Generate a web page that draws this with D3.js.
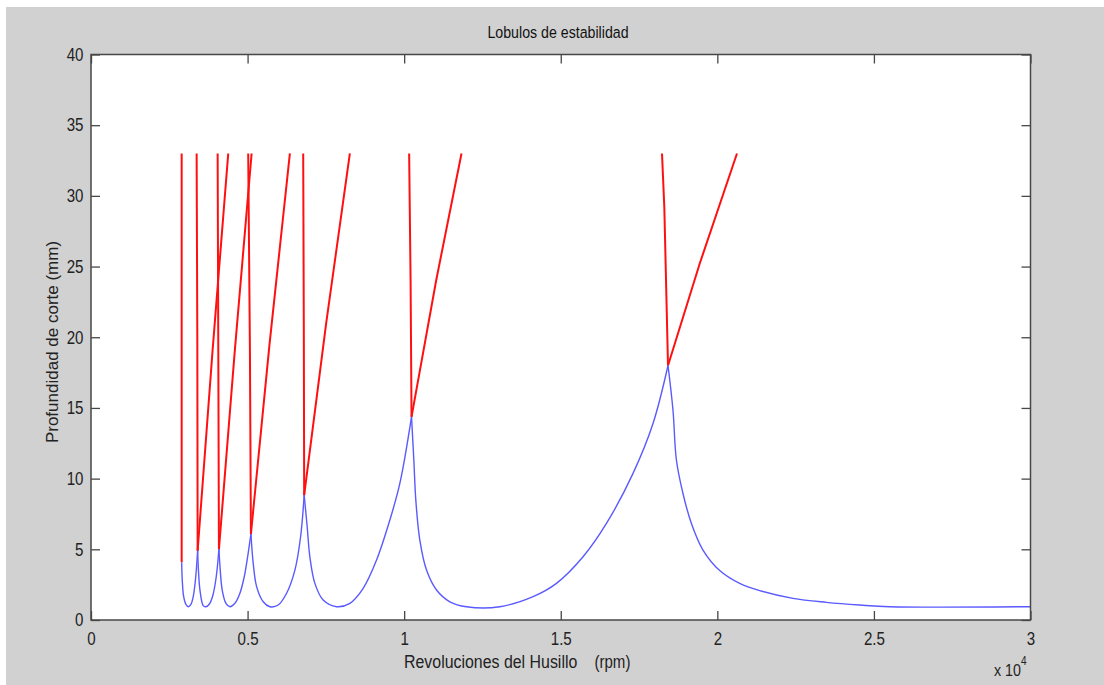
<!DOCTYPE html>
<html>
<head>
<meta charset="utf-8">
<script src="https://cdn.jsdelivr.net/npm/d3@7"></script>
<style>
  html, body { margin: 0; padding: 0; background: #ffffff; }
  svg { display: block; font-family: "Liberation Sans", Arial, sans-serif; }
</style>
</head>
<body>
<div id="chart"></div>
<script>
// ticks (x in units of 10^4 rpm)
var xTicks = [0, 0.5, 1, 1.5, 2, 2.5, 3];
var yTicks = [0, 5, 10, 15, 20, 25, 30, 35, 40];

// lower envelope of the lobes (blue), left to right
var lobe6 = [[0.2895, 4.08], [0.2914, 2.83], [0.2959, 1.65], [0.3032, 1.1], [0.3105, 0.94],
             [0.3191, 1.1], [0.3264, 1.65], [0.3335, 2.83], [0.3405, 4.9]];
var lobe5 = [[0.3405, 4.9], [0.3431, 3.53], [0.3479, 2.12], [0.3584, 1.02], [0.367, 0.94],
             [0.3782, 1.13], [0.3894, 1.77], [0.3999, 3.06], [0.4085, 5.0]];
var lobe4 = [[0.4085, 5.0], [0.4127, 3.53], [0.419, 2.12], [0.4309, 1.18], [0.4436, 0.94],
             [0.4596, 1.18], [0.4755, 1.89], [0.4893, 3.06], [0.5001, 4.47], [0.5106, 6.08]];
var lobe3 = [[0.5106, 6.08], [0.518, 4.0], [0.5288, 2.36], [0.5499, 1.29], [0.5713, 0.94],
             [0.5978, 1.06], [0.6246, 1.89], [0.6511, 3.53], [0.6693, 5.89], [0.6807, 8.83]];
var lobe2 = [[0.6807, 8.83], [0.6903, 6.6], [0.6989, 4.47], [0.7149, 2.59], [0.7414, 1.41],
             [0.7842, 0.94], [0.8266, 1.18], [0.8691, 2.24], [0.9118, 4.24], [0.9543, 7.07],
             [0.9862, 9.66], [1.0235, 14.37]];
var lobe1 = [[1.0235, 14.37], [1.0309, 11.3], [1.0372, 8.48], [1.05, 5.65], [1.0714, 3.53],
             [1.1033, 2.12], [1.1458, 1.29], [1.199, 0.94], [1.3053, 0.94], [1.4116, 1.65],
             [1.4863, 2.59], [1.5712, 4.47], [1.6459, 6.83], [1.7308, 10.37], [1.7946, 13.9],
             [1.8425, 18.0]];
var lobe0 = [[1.8425, 18.0], [1.8584, 14.84], [1.8694, 11.3], [1.8903, 8.95], [1.9172, 6.83],
             [1.9542, 4.95], [2.0075, 3.5], [2.0714, 2.59], [2.1352, 2.08], [2.2414, 1.53],
             [2.348, 1.25], [2.4547, 1.06], [2.5503, 0.94], [3.0, 0.94]];
var envelope = [lobe6, lobe5, lobe4, lobe3, lobe2, lobe1, lobe0];

// unstable continuations above each cusp (red): steep left branches
var steepBranches = [
  [[0.2895, 4.08], [0.2895, 33]],
  [[0.3405, 4.9], [0.3395, 20], [0.3373, 33]],
  [[0.4085, 5.0], [0.4065, 19], [0.4044, 33]],
  [[0.5106, 6.08], [0.5075, 19], [0.502, 33]],
  [[0.6807, 8.83], [0.6795, 21], [0.6776, 33]],
  [[1.0235, 14.37], [1.0205, 24], [1.0159, 33]],
  [[1.8425, 18.0], [1.8307, 29.2], [1.8233, 33]]
];
// and gradual right branches
var gradualBranches = [
  [[0.3405, 4.9], [0.388, 19], [0.4382, 33]],
  [[0.4085, 5.0], [0.459, 19], [0.5129, 33]],
  [[0.5106, 6.08], [0.570, 19.5], [0.6351, 33]],
  [[0.6807, 8.83], [0.751, 21], [0.8266, 33]],
  [[1.0235, 14.37], [1.102, 24], [1.1831, 33]],
  [[1.8425, 18.0], [1.9436, 25.2], [2.0627, 33]]
];

var svgWidth = 1104;
var svgHeight = 685;
var margin = { top: 54.5, right: 73.5, bottom: 65, left: 91 };
var width = svgWidth - margin.left - margin.right;
var height = svgHeight - margin.top - margin.bottom;

var svg = d3.select("#chart")
  .append("svg")
  .attr("width", svgWidth)
  .attr("height", svgHeight);

// grey figure background
svg.append("rect")
  .attr("x", 6).attr("y", 7)
  .attr("width", svgWidth - 6).attr("height", svgHeight - 7)
  .attr("fill", "#d1d1d1");

var chartGroup = svg.append("g")
  .attr("transform", `translate(${margin.left}, ${margin.top})`);

chartGroup.append("rect")
  .attr("width", width).attr("height", height)
  .attr("fill", "#ffffff");

var xScale = d3.scaleLinear().domain([0, 3]).range([0, width]);
var yScale = d3.scaleLinear().domain([0, 40]).range([height, 0]);

var line = d3.line()
  .x(d => xScale(d[0]))
  .y(d => yScale(d[1]));

// red branches
var redGroup = chartGroup.append("g");
steepBranches.concat(gradualBranches).forEach(function(b) {
  redGroup.append("path")
    .attr("d", line(b))
    .attr("fill", "none")
    .attr("stroke", "#ff1010")
    .attr("stroke-width", 2);
});

// blue envelope
var smooth = d3.line()
  .x(d => xScale(d[0]))
  .y(d => yScale(d[1]))
  .curve(d3.curveCatmullRom.alpha(0.5));
envelope.forEach(function(l) {
  chartGroup.append("path")
    .attr("d", smooth(l))
    .attr("fill", "none")
    .attr("stroke", "#5a5aff")
    .attr("stroke-width", 1.4);
});

// axes, matlab style: ticks inside on all four sides
var axisColor = "#474747";
var tickLen = 9;

function styleAxis(g) {
  g.select(".domain").remove();
  g.selectAll(".tick line").attr("stroke", axisColor).attr("stroke-width", 1.3);
  g.selectAll(".tick text")
    .attr("fill", "#222")
    .attr("font-size", "18px");
}

chartGroup.append("g")
  .attr("transform", `translate(0, ${height})`)
  .call(d3.axisBottom(xScale).tickValues(xTicks).tickSize(-tickLen).tickPadding(12)
    .tickFormat(d3.format("")))
  .call(styleAxis)
  .call(g => g.selectAll(".tick text").attr("transform", "scale(0.84,1)"));

chartGroup.append("g")
  .call(d3.axisTop(xScale).tickValues(xTicks).tickSize(-tickLen).tickFormat(""))
  .call(styleAxis);

chartGroup.append("g")
  .call(d3.axisLeft(yScale).tickValues(yTicks).tickSize(-tickLen).tickPadding(9))
  .call(styleAxis)
  .call(g => g.selectAll(".tick text").attr("transform", "scale(0.84,1)"));

chartGroup.append("g")
  .attr("transform", `translate(${width}, 0)`)
  .call(d3.axisRight(yScale).tickValues(yTicks).tickSize(-tickLen).tickFormat(""))
  .call(styleAxis);

// frame
chartGroup.append("rect")
  .attr("width", width).attr("height", height)
  .attr("fill", "none")
  .attr("stroke", axisColor)
  .attr("stroke-width", 1.5);

// title
svg.append("text")
  .attr("transform", `translate(558, 38) scale(0.86,1)`)
  .attr("text-anchor", "middle")
  .attr("font-size", "16.5px")
  .attr("fill", "#111")
  .text("Lobulos de estabilidad");

// x label
var xl = svg.append("text")
  .attr("transform", `translate(404, 668) scale(0.86,1)`)
  .attr("fill", "#222")
  .attr("font-size", "18.5px");
xl.append("tspan").text("Revoluciones del Husillo");
xl.append("tspan").attr("dx", 20).attr("font-size", "17.5px").text("(rpm)");

// exponent
var ex = svg.append("text")
  .attr("transform", `translate(994, 676) scale(0.84,1)`)
  .attr("fill", "#222")
  .attr("font-size", "17px");
ex.append("tspan").text("x 10");
ex.append("tspan").attr("dy", -11).attr("font-size", "12px").text("4");

// y label
svg.append("text")
  .attr("transform", "translate(58, 342) rotate(-90)")
  .attr("text-anchor", "middle")
  .attr("fill", "#222")
  .attr("font-size", "17px")
  .text("Profundidad de corte (mm)");
</script>
</body>
</html>
